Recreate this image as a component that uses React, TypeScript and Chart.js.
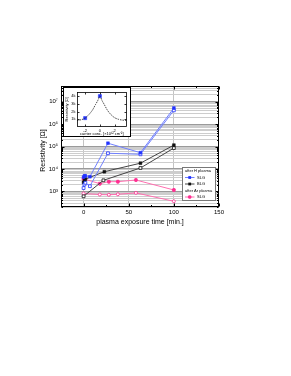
import React, { useEffect, useRef } from "react";
import { Chart, registerables } from "chart.js";

Chart.register(...registerables);

const FONT = "'Liberation Sans', Arial, sans-serif";

// ---- main chart data: plasma exposure time [min.] vs resistivity [Ω]
const hSlgTimes = [0, 1, 2, 7, 27, 63, 100];
const hSlgRes = [4300, 4900, 4900, 4500, 140000, 53000, 5200000];
const hSlgOpenTimes = [0, 1, 2, 7, 27, 63, 100];
const hSlgOpenRes = [1400, 2000, 2400, 1700, 50000, 45000, 4100000];
const hBlgTimes = [0, 1, 2, 23, 63, 100];
const hBlgRes = [2500, 3000, 3500, 7500, 18000, 115000];
const hBlgOpenTimes = [0, 22, 63, 100];
const hBlgOpenRes = [600, 3100, 11000, 85000];
const arSlgTimes = [0, 18, 28, 38, 58, 100];
const arSlgRes = [3600, 2200, 2700, 2700, 3200, 1150];
const arSlgOpenTimes = [0, 18, 28, 38, 58, 100];
const arSlgOpenRes = [800, 720, 700, 740, 850, 360];

const xTickValues = [0, 50, 100, 150];
const xMinorTickValues = [25, 75, 125];
const yDecades = [100, 1000, 10000, 100000, 1000000, 10000000];
const supers: Record<string, string> = { "2": "²", "3": "³", "4": "⁴", "5": "⁵", "6": "⁶", "7": "⁷" };
const yTitle = "Resistivity [Ω]";

// ---- inset data: carrier conc. [×10^12 cm^-2] vs resistivity [Ω]
const insetCurveX = [-3.1, -2.5, -2, -1.5, -1, -0.6, -0.3, 0, 0.3, 0.6, 1, 1.5, 2, 2.5, 3, 3.6];
const insetCurveR = [850, 950, 1150, 1600, 2200, 2900, 3400, 4000, 3400, 2900, 2200, 1600, 1200, 1000, 900, 850];
const insetPointX = [-2, 0];
const insetPointR = [1150, 4000];
const insetXTicks = [-2, 0, 2];
const insetYTicks = [1000, 2000, 3000, 4000];

const BLUE = "#2233ff";
const BLUE_LINE = "#7080ff";
const BLACK = "#111111";
const BLACK_LINE = "#444444";
const PINK = "#ff2f92";
const PINK_LINE = "#ff6fb0";

const mk = (xs: number[], ys: number[]) => xs.map((x, i) => ({ x, y: ys[i] }));

const Y_MIN = 200;
const Y_MAX = 5e7;

function yAllTicks() {
  const out: number[] = [];
  for (const d of yDecades) {
    for (let m = 1; m <= 9; m++) {
      const v = m * d;
      if (v >= Y_MIN && v <= Y_MAX) out.push(v);
    }
  }
  return out;
}

const isDecade = (v: number) => {
  const l = Math.log10(v);
  return Math.abs(l - Math.round(l)) < 1e-6;
};

const framePlugin = {
  id: "frame",
  afterDraw(chart: any) {
    const { ctx, chartArea, scales } = chart;
    const { left, right, top, bottom } = chartArea;
    ctx.save();
    ctx.strokeStyle = "#000";
    ctx.lineWidth = 1;
    const L = Math.round(left) + 0.5, R = Math.round(right) - 0.5;
    const T = Math.round(top) + 0.5, B = Math.round(bottom) - 0.5;
    ctx.strokeRect(L, T, R - L, B - T);
    ctx.beginPath();
    const xs = scales.x;
    const ys = scales.y;
    const xt = (v: number, len: number) => {
      const p = Math.round(xs.getPixelForValue(v)) + 0.5;
      ctx.moveTo(p, B); ctx.lineTo(p, B - len);
      ctx.moveTo(p, T); ctx.lineTo(p, T + len);
    };
    xTickValues.forEach((v) => xt(v, 3));
    xMinorTickValues.forEach((v) => xt(v, 1.5));
    yAllTicks().forEach((v) => {
      const p = Math.round(ys.getPixelForValue(v)) + 0.5;
      const len = isDecade(v) ? 3 : 1.5;
      ctx.moveTo(L, p); ctx.lineTo(L + len, p);
      ctx.moveTo(R, p); ctx.lineTo(R - len, p);
    });
    ctx.stroke();
    // y axis title
    ctx.fillStyle = "#000";
    ctx.font = `7px ${FONT}`;
    ctx.textAlign = "center";
    ctx.textBaseline = "middle";
    ctx.translate(43.5, (top + bottom) / 2 + 4);
    ctx.rotate(-Math.PI / 2);
    ctx.fillText(yTitle, 0, 0);
    ctx.restore();
  },
};

const legendPlugin = {
  id: "customLegend",
  afterDraw(chart: any) {
    const { ctx } = chart;
    ctx.save();
    const bx = 182.5, by = 167.5, bw = 33, bh = 33;
    ctx.fillStyle = "#fff";
    ctx.fillRect(bx, by, bw, bh);
    ctx.strokeStyle = "#777";
    ctx.lineWidth = 1;
    ctx.strokeRect(bx, by, bw, bh);
    ctx.font = `4px ${FONT}`;
    ctx.textBaseline = "middle";
    ctx.fillStyle = "#000";
    ctx.fillText("after H plasma", 185, 171);
    ctx.fillText("after Ar plasma", 185, 190.5);
    const rows = [
      { y: 177.5, line: BLUE_LINE, c: BLUE, shape: "rect", text: "SLG" },
      { y: 184, line: BLACK_LINE, c: BLACK, shape: "rect", text: "BLG" },
      { y: 197, line: PINK_LINE, c: PINK, shape: "star", text: "SLG" },
    ];
    rows.forEach((r) => {
      ctx.strokeStyle = r.line;
      ctx.lineWidth = 1;
      ctx.beginPath();
      ctx.moveTo(185, r.y);
      ctx.lineTo(194.5, r.y);
      ctx.stroke();
      if (r.shape === "rect") {
        ctx.fillStyle = r.c;
        ctx.fillRect(188.3, r.y - 1.4, 2.8, 2.8);
      } else {
        ctx.strokeStyle = r.c;
        ctx.lineWidth = 1.2;
        ctx.beginPath();
        for (let k = 0; k < 4; k++) {
          const a = (k * Math.PI) / 4;
          ctx.moveTo(189.7 - 1.8 * Math.cos(a), r.y - 1.8 * Math.sin(a));
          ctx.lineTo(189.7 + 1.8 * Math.cos(a), r.y + 1.8 * Math.sin(a));
        }
        ctx.stroke();
      }
      ctx.fillStyle = "#000";
      ctx.fillText(r.text, 197, r.y);
    });
    ctx.restore();
  },
};

function mainConfig(): any {
  const filled = (data: any, line: string, c: string, style: string, r: number) => ({
    data,
    showLine: true,
    borderColor: line,
    borderWidth: 1,
    pointStyle: style,
    pointRadius: r,
    pointBackgroundColor: c,
    pointBorderColor: c,
    pointBorderWidth: style === "star" ? 1.2 : 0.5,
    tension: 0,
  });
  const open = (data: any, line: string, c: string, style: string, r: number) => ({
    data,
    showLine: true,
    borderColor: line,
    borderWidth: 1,
    pointStyle: style,
    pointRadius: r,
    pointBackgroundColor: "#fff",
    pointBorderColor: c,
    pointBorderWidth: 0.8,
    tension: 0,
  });
  return {
    type: "line",
    data: {
      datasets: [
        filled(mk(hSlgTimes, hSlgRes), BLUE_LINE, BLUE, "rect", 2),
        open(mk(hSlgOpenTimes, hSlgOpenRes), BLUE_LINE, BLUE, "rect", 2),
        filled(mk(hBlgTimes, hBlgRes), BLACK_LINE, BLACK, "rect", 2),
        open(mk(hBlgOpenTimes, hBlgOpenRes), BLACK_LINE, BLACK, "rect", 2),
        filled(mk(arSlgTimes, arSlgRes), PINK_LINE, PINK, "star", 2),
        open(mk(arSlgOpenTimes, arSlgOpenRes), PINK_LINE, PINK, "circle", 1.5),
      ],
    },
    options: {
      animation: false,
      responsive: false,
      devicePixelRatio: 1,
      events: [],
      layout: { padding: { left: 39, right: 72, top: 86, bottom: 149.8 } },
      plugins: { legend: { display: false }, tooltip: { enabled: false }, title: { display: false } },
      scales: {
        x: {
          type: "linear",
          min: -25,
          max: 150,
          afterBuildTicks: (s: any) => { s.ticks = xTickValues.map((v) => ({ value: v })); },
          afterFit: (s: any) => { s.height = 19.2; },
          border: { display: false },
          grid: {
            drawTicks: false,
            color: (c: any) => (c.tick && c.tick.value < 150 ? "#c4c4c4" : "rgba(0,0,0,0)"),
            lineWidth: 1,
          },
          ticks: { font: { family: FONT, size: 6 }, color: "#000", padding: 2, maxRotation: 0 },
          title: {
            display: true,
            text: "plasma exposure time [min.]",
            font: { family: FONT, size: 7 },
            color: "#000",
            padding: 0,
          },
        },
        y: {
          type: "logarithmic",
          min: Y_MIN,
          max: Y_MAX,
          afterBuildTicks: (s: any) => { s.ticks = yAllTicks().map((v) => ({ value: v })); },
          afterFit: (s: any) => { s.width = 22; },
          border: { display: false },
          grid: {
            drawTicks: false,
            color: (c: any) => (c.tick && isDecade(c.tick.value) ? "#9a9a9a" : "#cdcdcd"),
            lineWidth: 1,
          },
          ticks: {
            autoSkip: false,
            font: { family: FONT, size: 6 },
            color: "#000",
            padding: 3,
            callback: (v: any) => {
              const n = Number(v);
              if (!isDecade(n)) return "";
              const e = String(Math.round(Math.log10(n)));
              return "10" + (supers[e] || e);
            },
          },
          title: { display: false },
        },
      },
    },
    plugins: [framePlugin, legendPlugin],
  };
}

const insetFramePlugin = {
  id: "insetFrame",
  beforeDraw(chart: any) {
    const { ctx, width, height } = chart;
    ctx.save();
    ctx.fillStyle = "#fff";
    ctx.fillRect(0, 0, width, height);
    ctx.restore();
  },
  afterDraw(chart: any) {
    const { ctx, width, height, chartArea, scales } = chart;
    const { left, right, top, bottom } = chartArea;
    ctx.save();
    ctx.strokeStyle = "#000";
    ctx.lineWidth = 1;
    ctx.strokeRect(0.5, 0.5, width - 1, height - 1);
    const L = Math.round(left) + 0.5, R = Math.round(right) - 0.5;
    const T = Math.round(top) + 0.5, B = Math.round(bottom) - 0.5;
    ctx.lineWidth = 0.8;
    ctx.strokeRect(L, T, R - L, B - T);
    ctx.beginPath();
    insetXTicks.forEach((v) => {
      const p = Math.round(scales.x.getPixelForValue(v)) + 0.5;
      ctx.moveTo(p, B); ctx.lineTo(p, B - 2);
      ctx.moveTo(p, T); ctx.lineTo(p, T + 2);
    });
    insetYTicks.forEach((v) => {
      const p = Math.round(scales.y.getPixelForValue(v)) + 0.5;
      ctx.moveTo(L, p); ctx.lineTo(L + 2, p);
      ctx.moveTo(R, p); ctx.lineTo(R - 2, p);
    });
    ctx.stroke();
    ctx.restore();
  },
};

function insetConfig(): any {
  return {
    type: "line",
    data: {
      datasets: [
        {
          data: mk(insetCurveX, insetCurveR),
          showLine: true,
          borderColor: "#333",
          borderWidth: 0.9,
          borderDash: [1.5, 1],
          pointRadius: 0,
          tension: 0.3,
        },
        {
          data: mk(insetPointX, insetPointR),
          showLine: false,
          pointStyle: "rect",
          pointRadius: 2.2,
          pointBackgroundColor: BLUE,
          pointBorderColor: BLUE,
          pointBorderWidth: 0.5,
        },
      ],
    },
    options: {
      animation: false,
      responsive: false,
      devicePixelRatio: 1,
      events: [],
      layout: { padding: { left: 1, right: 4, top: 3.5, bottom: 1.1 } },
      plugins: { legend: { display: false }, tooltip: { enabled: false } },
      scales: {
        x: {
          type: "linear",
          min: -3.1,
          max: 3.6,
          afterBuildTicks: (s: any) => { s.ticks = insetXTicks.map((v) => ({ value: v })); },
          afterFit: (s: any) => { s.height = 8.9; },
          border: { display: false },
          grid: { display: false, drawTicks: false },
          ticks: { font: { family: FONT, size: 4 }, color: "#000", padding: 1, maxRotation: 0 },
          title: {
            display: true,
            text: "carrier conc. [×10¹² cm⁻²]",
            font: { family: FONT, size: 4 },
            color: "#000",
            padding: 0,
          },
        },
        y: {
          type: "linear",
          min: 0,
          max: 4600,
          afterBuildTicks: (s: any) => { s.ticks = insetYTicks.map((v) => ({ value: v })); },
          afterFit: (s: any) => { s.width = 13; },
          border: { display: false },
          grid: { display: false, drawTicks: false },
          ticks: {
            font: { family: FONT, size: 4 },
            color: "#000",
            padding: 1.5,
            callback: (v: any) => `${Number(v) / 1000}k`,
          },
          title: {
            display: true,
            text: "Resistivity [Ω]",
            font: { family: FONT, size: 4 },
            color: "#000",
            padding: 0,
          },
        },
      },
    },
    plugins: [insetFramePlugin],
  };
}

export default function App() {
  const mainRef = useRef<HTMLCanvasElement>(null);
  const insetRef = useRef<HTMLCanvasElement>(null);
  useEffect(() => {
    const c1 = new Chart(mainRef.current as HTMLCanvasElement, mainConfig());
    const c2 = new Chart(insetRef.current as HTMLCanvasElement, insetConfig());
    return () => {
      c1.destroy();
      c2.destroy();
    };
  }, []);
  return (
    <div style={{ position: "absolute", left: 0, top: 0, width: 291, height: 376, background: "#fff" }}>
      <canvas
        ref={mainRef}
        width={291}
        height={376}
        style={{ position: "absolute", left: 0, top: 0, width: 291, height: 376, display: "block" }}
      />
      <canvas
        ref={insetRef}
        width={68}
        height={50}
        style={{ position: "absolute", left: 63, top: 87, width: 68, height: 50, display: "block" }}
      />
    </div>
  );
}
